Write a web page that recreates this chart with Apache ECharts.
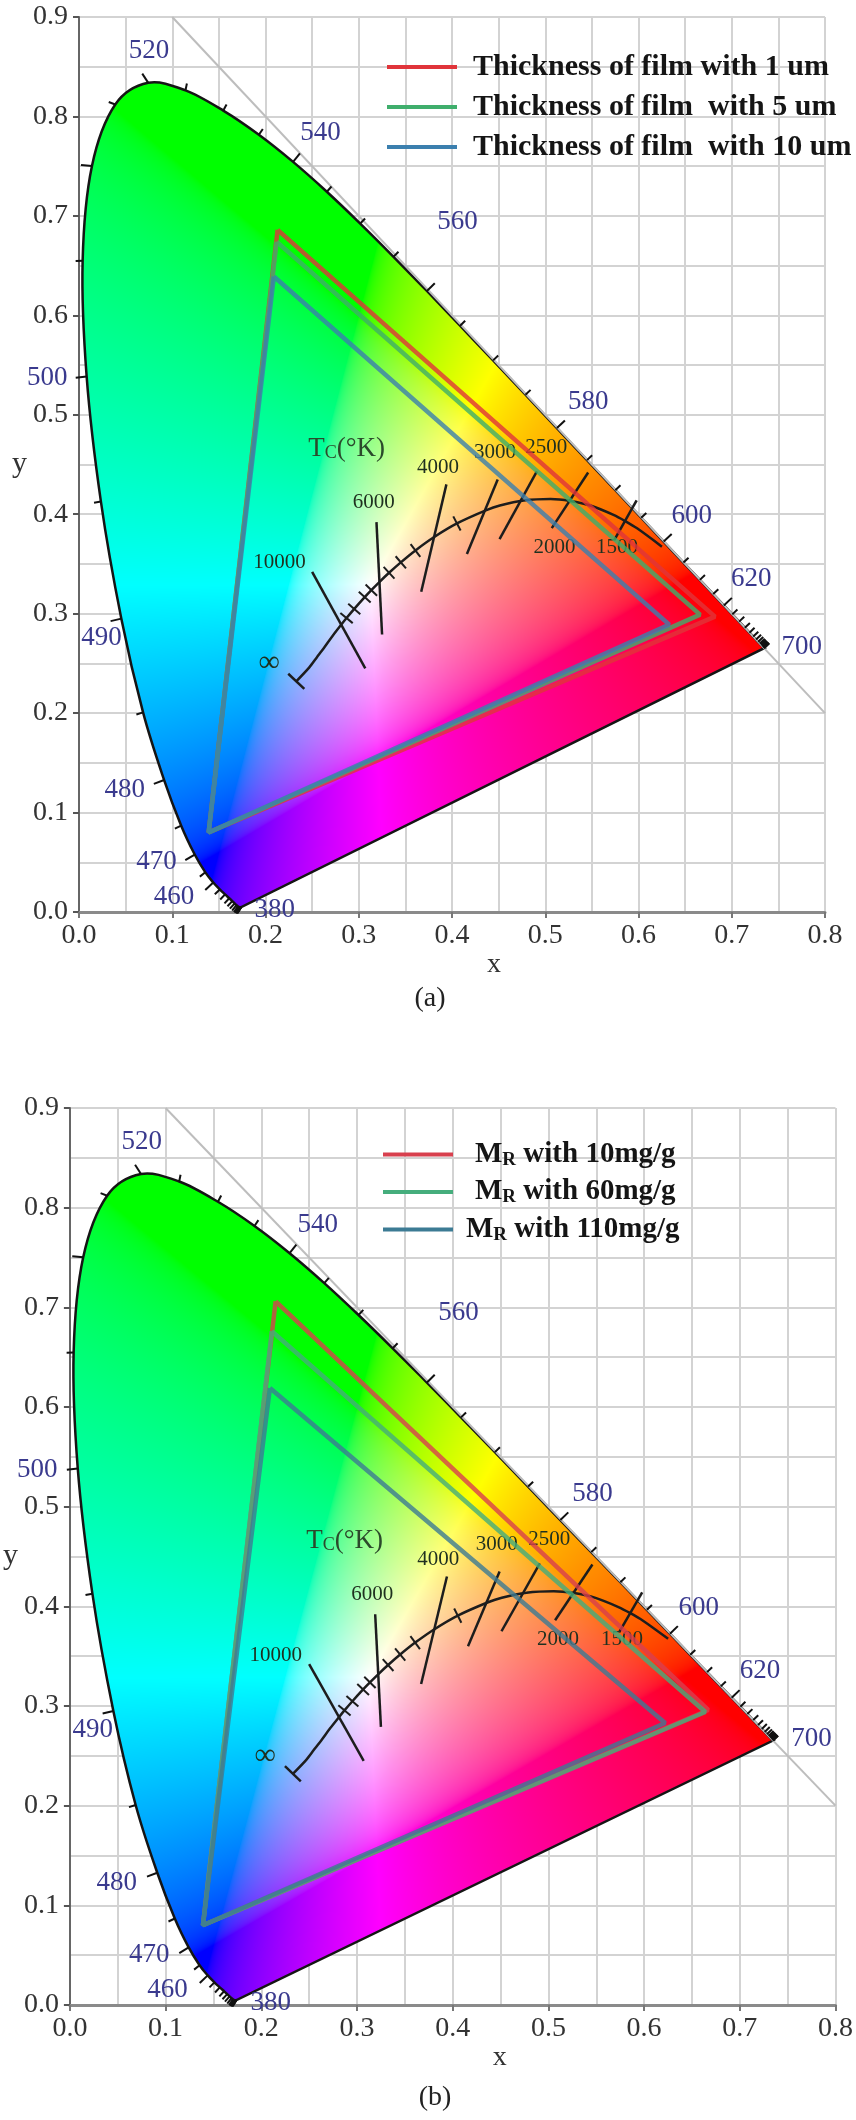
<!DOCTYPE html>
<html><head><meta charset="utf-8">
<script src="https://cdn.jsdelivr.net/npm/echarts@6/dist/echarts.min.js"></script>
<style>html,body{margin:0;padding:0;background:#fff}#c{width:856px;height:2120px}</style>
</head><body><div id="c"></div>
<script>
// ---------- DATA ----------
// CIE 1931 spectral locus (5 nm steps)
const wavelengths = [380,385,390,395,400,405,410,415,420,425,430,435,440,445,450,455,460,465,470,475,480,485,490,495,500,505,510,515,520,525,530,535,540,545,550,555,560,565,570,575,580,585,590,595,600,605,610,615,620,625,630,635,640,645,650,655,660,665,670,675,680,685,690,695,700];
const locusX = [0.1741,0.1740,0.1738,0.1736,0.1733,0.1730,0.1726,0.1721,0.1714,0.1703,0.1689,0.1669,0.1644,0.1611,0.1566,0.1510,0.1440,0.1355,0.1241,0.1096,0.0913,0.0687,0.0454,0.0235,0.0082,0.0039,0.0139,0.0389,0.0743,0.1142,0.1547,0.1929,0.2296,0.2658,0.3016,0.3373,0.3731,0.4087,0.4441,0.4788,0.5125,0.5448,0.5752,0.6029,0.6270,0.6482,0.6658,0.6801,0.6915,0.7006,0.7079,0.7140,0.7190,0.7230,0.7260,0.7283,0.7300,0.7311,0.7320,0.7327,0.7334,0.7340,0.7344,0.7346,0.7347];
const locusY = [0.0050,0.0050,0.0049,0.0049,0.0048,0.0048,0.0048,0.0048,0.0051,0.0058,0.0069,0.0086,0.0109,0.0138,0.0177,0.0227,0.0297,0.0399,0.0578,0.0868,0.1327,0.2007,0.2950,0.4127,0.5384,0.6548,0.7502,0.8120,0.8338,0.8262,0.8059,0.7816,0.7543,0.7243,0.6923,0.6589,0.6245,0.5896,0.5547,0.5202,0.4866,0.4544,0.4242,0.3965,0.3725,0.3514,0.3340,0.3197,0.3083,0.2993,0.2920,0.2859,0.2809,0.2770,0.2740,0.2717,0.2700,0.2689,0.2680,0.2673,0.2666,0.2660,0.2656,0.2654,0.2653];
// wavelength labels (text and anchor in x,y)
const wlLabelText = ['520','540','560','580','600','620','700','500','490','480','470','460','380'];
const wlLabelX = [0.075,0.259,0.406,0.546,0.657,0.721,0.775,-0.034,0.024,0.049,0.083,0.102,0.210];
const wlLabelY = [0.866,0.783,0.694,0.513,0.398,0.335,0.267,0.537,0.276,0.123,0.050,0.015,0.002];
const longTickWl = [460,470,480,490,500,510,520,540,560,580,600,620];
// Planckian locus
const planckT = [1200,1400,1500,1600,1800,2000,2200,2500,2800,3000,3500,4000,4500,5000,5500,6000,6500,7000,8000,9000,10000,12000,15000,20000,30000,Infinity];
const planckX = [0.6251,0.5985,0.5857,0.5732,0.5492,0.5267,0.5056,0.4770,0.4513,0.4369,0.4053,0.3805,0.3608,0.3451,0.3325,0.3221,0.3135,0.3064,0.2952,0.2869,0.2807,0.2719,0.2630,0.2550,0.2470,0.2330];
const planckY = [0.3674,0.3858,0.3931,0.3993,0.4085,0.4133,0.4152,0.4137,0.4087,0.4041,0.3907,0.3768,0.3636,0.3516,0.3411,0.3318,0.3237,0.3166,0.3048,0.2956,0.2883,0.2776,0.2660,0.2560,0.2460,0.2320];
const planckTickT = [9000,8000,7000,6500,5500,5000,4500,3500];
// isotherm segments
const isoT  = [10000,6000,4000,3000,2500,2000,1500];
const isoX1 = [0.250,0.319,0.394,0.449,0.491,0.546,0.598];
const isoY1 = [0.342,0.392,0.430,0.435,0.443,0.442,0.414];
const isoX2 = [0.307,0.325,0.367,0.416,0.451,0.507,0.574];
const isoY2 = [0.245,0.279,0.322,0.360,0.375,0.386,0.374];
// temperature labels
const tempLabelText = ['10000','6000','4000','3000','2500','2000','1500','\u221e'];
const tempLabelX = [0.215,0.316,0.385,0.446,0.501,0.510,0.577,0.204];
const tempLabelY = [0.351,0.412,0.447,0.462,0.467,0.367,0.367,0.250];
const tcLabelX = [0.287];
const tcLabelY = [0.467];
// white-light diagonal x + y = 1
const diagX = [0.1,0.8];
const diagY = [0.9,0.2];
// chart (a): film thickness triangles  [x, y] vertices
const filmNames = ['Thickness of film with 1 um','Thickness of film  with 5 um','Thickness of film  with 10 um'];
const film1um  = [[0.213,0.686],[0.682,0.297],[0.139,0.080]];
const film5um  = [[0.212,0.674],[0.666,0.299],[0.139,0.080]];
const film10um = [[0.209,0.639],[0.633,0.289],[0.139,0.080]];
// chart (b): M_R content triangles
const mrNames = ['MR with 10mg/g','MR with 60mg/g','MR with 110mg/g'];
const mr10  = [[0.215,0.706],[0.667,0.296],[0.139,0.080]];
const mr60  = [[0.211,0.676],[0.664,0.294],[0.139,0.080]];
const mr110 = [[0.209,0.619],[0.622,0.283],[0.139,0.080]];
const xTickLabels = ['0.0','0.1','0.2','0.3','0.4','0.5','0.6','0.7','0.8'];
const yTickLabels = ['0.0','0.1','0.2','0.3','0.4','0.5','0.6','0.7','0.8','0.9'];

// ---------- RENDER ----------
const FONT = 'Liberation Serif';
const chart = echarts.init(document.getElementById('c'), null, {renderer:'canvas'});

const GL = new Uint8ClampedArray(4097);
for (let i=0;i<=4096;i++){const c=i/4096;const v=c<=0.0031308?12.92*c:1.055*Math.pow(c,1/2.4)-0.055;GL[i]=Math.round(v*255);}
function xyColor(x,y,out){
  if (y<=0.0005){return false;}
  const X=x/y, Z=(1-x-y)/y;
  let r=3.2406*X-1.5372-0.4986*Z, g=-0.9689*X+1.8758+0.0415*Z, b=0.0557*X-0.2040+1.0570*Z;
  r=r<0?0:r; g=g<0?0:g; b=b<0?0:b;
  const m=Math.max(r,g,b)||1;
  out[0]=GL[Math.round(r/m*4096)];out[1]=GL[Math.round(g/m*4096)];out[2]=GL[Math.round(b/m*4096)];
  return true;
}
// smooth (Catmull-Rom) SVG path through the locus points in pixel space, closed by the purple line
function locusPath(api, dx, dy){
  const P = locusX.map((x,i)=>{const p=api.coord([x,locusY[i]]); return [p[0]-dx,p[1]-dy];});
  const n=P.length; let s='M'+P[0][0].toFixed(2)+' '+P[0][1].toFixed(2);
  for (let i=0;i<n-1;i++){
    const p0=P[Math.max(i-1,0)], p1=P[i], p2=P[i+1], p3=P[Math.min(i+2,n-1)];
    const c1=[p1[0]+(p2[0]-p0[0])/6, p1[1]+(p2[1]-p0[1])/6];
    const c2=[p2[0]-(p3[0]-p1[0])/6, p2[1]-(p3[1]-p1[1])/6];
    s+='C'+c1[0].toFixed(2)+' '+c1[1].toFixed(2)+' '+c2[0].toFixed(2)+' '+c2[1].toFixed(2)+' '+p2[0].toFixed(2)+' '+p2[1].toFixed(2);
  }
  return s+'Z';
}

function fillRender(params, api){
  const cs = params.coordSys;
  const w = Math.ceil(cs.width)+1, h = Math.ceil(cs.height)+1;
  const x0 = Math.floor(cs.x), y0 = Math.floor(cs.y);
  const p00 = api.coord([0,0]), p11 = api.coord([1,1]);
  const kx = 1/(p11[0]-p00[0]), ky = 1/(p11[1]-p00[1]);
  const cv = document.createElement('canvas'); cv.width=w; cv.height=h;
  const ctx = cv.getContext('2d');
  const img = ctx.createImageData(w,h); const d=img.data; const c=[0,0,0];
  for (let py=0;py<h;py++){
    const yy=(y0+py+0.5-p00[1])*ky;
    for (let px=0;px<w;px++){
      const xx=(x0+px+0.5-p00[0])*kx;
      const k=(py*w+px)*4;
      if (xyColor(xx,yy,c)){d[k]=c[0];d[k+1]=c[1];d[k+2]=c[2];d[k+3]=255;}
    }
  }
  ctx.putImageData(img,0,0);
  ctx.globalCompositeOperation='destination-in';
  ctx.fillStyle='#000'; ctx.fill(new Path2D(locusPath(api,x0,y0)));
  return {type:'group', children:[
    {type:'image', style:{image:cv, x:x0, y:y0, width:w, height:h}, silent:true},
    {type:'path', shape:{pathData:locusPath(api,0,0)}, style:{fill:null, stroke:'#151515', lineWidth:2.5}, silent:true}
  ]};
}

function locusTickRender(params, api){
  const i = params.dataIndex, n = locusX.length;
  const p = api.coord([locusX[i],locusY[i]]);
  let a=i, b=i, A=p, B=p;
  while (a>0 && Math.hypot(A[0]-B[0],A[1]-B[1])<4){a--; A=api.coord([locusX[a],locusY[a]]);}
  while (b<n-1 && Math.hypot(A[0]-B[0],A[1]-B[1])<8){b++; B=api.coord([locusX[b],locusY[b]]);}
  let tx=B[0]-A[0], ty=B[1]-A[1]; const L=Math.hypot(tx,ty)||1; tx/=L; ty/=L;
  let nx=ty, ny=-tx; const c=api.coord([0.33,0.33]);
  if ((p[0]-c[0])*nx+(p[1]-c[1])*ny<0){nx=-nx;ny=-ny;}
  const len = longTickWl.indexOf(wavelengths[i])>=0 ? 11 : 7;
  return {type:'line', shape:{x1:p[0],y1:p[1],x2:p[0]+nx*len,y2:p[1]+ny*len}, style:{stroke:'#111',lineWidth:2}};
}

function isoRender(params, api){
  const p1=api.coord([api.value(0),api.value(1)]), p2=api.coord([api.value(2),api.value(3)]);
  return {type:'line', shape:{x1:p1[0],y1:p1[1],x2:p2[0],y2:p2[1]}, style:{stroke:'#1d1d1d',lineWidth:2.5}};
}
function planckTickRender(params, api){
  const T = planckTickT[params.dataIndex];
  const i = planckT.indexOf(T);
  const p=api.coord([planckX[i],planckY[i]]);
  const A=api.coord([planckX[i-1],planckY[i-1]]), B=api.coord([planckX[i+1],planckY[i+1]]);
  let tx=B[0]-A[0], ty=B[1]-A[1]; const L=Math.hypot(tx,ty)||1; tx/=L; ty/=L;
  const h=8;
  return {type:'line', shape:{x1:p[0]+ty*h,y1:p[1]-tx*h,x2:p[0]-ty*h,y2:p[1]+tx*h}, style:{stroke:'#1d1d1d',lineWidth:2}};
}
function endBarRender(params, api){
  const n=planckX.length;
  const p=api.coord([planckX[n-1],planckY[n-1]]), A=api.coord([planckX[n-2],planckY[n-2]]);
  let tx=p[0]-A[0], ty=p[1]-A[1]; const L=Math.hypot(tx,ty)||1; tx/=L; ty/=L;
  const h=11;
  return {type:'line', shape:{x1:p[0]+ty*h,y1:p[1]-tx*h,x2:p[0]-ty*h,y2:p[1]+tx*h}, style:{stroke:'#1d1d1d',lineWidth:2.5}};
}
function textRender(arr, fontFn, color){
  return function(params, api){
    const p=api.coord([api.value(0),api.value(1)]);
    const t=arr[params.dataIndex];
    return {type:'text', x:p[0], y:p[1], style:{text:t, font:fontFn(t), fill:color, align:'center', verticalAlign:'middle'}};
  };
}
function tcRender(params, api){
  const p=api.coord([api.value(0),api.value(1)]);
  return {type:'text', x:p[0], y:p[1], style:{text:'{a|T}{s|C}{a|(\u00b0K)}', align:'center', verticalAlign:'middle',
    rich:{a:{fontFamily:FONT,fontSize:27,fill:'#2b4a2b',lineHeight:30,verticalAlign:'bottom'},
          s:{fontFamily:FONT,fontSize:18,fill:'#2b4a2b',lineHeight:14,verticalAlign:'bottom'}}}};
}

function buildGrid(gi, triNames, tris, triColors){
  const ax = {xAxisIndex:gi, yAxisIndex:gi};
  const s = [];
  s.push(Object.assign({type:'custom', name:'fill'+gi, data:[[0,0]], renderItem:fillRender, z:1, silent:true}, ax));
  s.push(Object.assign({type:'line', name:'diag'+gi, data:diagX.map((x,i)=>[x,diagY[i]]), symbol:'none', lineStyle:{color:'#bdbdbd',width:2}, z:2, silent:true}, ax));
  s.push(Object.assign({type:'custom', name:'lticks'+gi, data:wavelengths.map((w,i)=>[locusX[i],locusY[i],w]), renderItem:locusTickRender, z:3, silent:true}, ax));
  s.push(Object.assign({type:'line', name:'planck'+gi, data:planckX.map((x,i)=>[x,planckY[i]]), symbol:'none', smooth:0.3, lineStyle:{color:'#1d1d1d',width:2.5}, z:4, silent:true}, ax));
  s.push(Object.assign({type:'custom', name:'iso'+gi, data:isoT.map((t,i)=>[isoX1[i],isoY1[i],isoX2[i],isoY2[i]]), encode:{x:[0,2],y:[1,3]}, renderItem:isoRender, z:4, silent:true}, ax));
  s.push(Object.assign({type:'custom', name:'pticks'+gi, data:planckTickT.map(t=>[0.3,0.3]), renderItem:planckTickRender, z:4, silent:true}, ax));
  s.push(Object.assign({type:'custom', name:'pend'+gi, data:[[0.3,0.3]], renderItem:endBarRender, z:4, silent:true}, ax));
  s.push(Object.assign({type:'custom', name:'wl'+gi, data:wlLabelX.map((x,i)=>[x,wlLabelY[i]]), renderItem:textRender(wlLabelText,()=>'27px "Liberation Serif"','#3a3a8e'), z:5, silent:true}, ax));
  s.push(Object.assign({type:'custom', name:'tl'+gi, data:tempLabelX.map((x,i)=>[x,tempLabelY[i]]), renderItem:textRender(tempLabelText,(t)=>(t==='\u221e'?'30px':'21px')+' "Liberation Serif"','#1f301f'), z:5, silent:true}, ax));
  s.push(Object.assign({type:'custom', name:'tc'+gi, data:tcLabelX.map((x,i)=>[x,tcLabelY[i]]), renderItem:tcRender, z:5, silent:true}, ax));
  tris.forEach((t,k)=>{
    const pts = t.concat([t[0]]);
    s.push(Object.assign({type:'line', name:triNames[k], data:pts, symbol:'none', color:triColors[k],
      itemStyle:{color:triColors[k]}, lineStyle:{color:triColors[k],width:4.5,opacity:0.8}, z:6+k}, ax));
  });
  return s;
}

function xAxisCfg(gi,padLeft){
  return {gridIndex:gi, type:'value', min:0, max:0.8, interval:0.1,
    name:'x', nameLocation:'middle', nameGap:18, nameTextStyle:{fontFamily:FONT,fontSize:28,color:'#333',padding:[0,0,0,padLeft]},
    axisLine:{show:true,onZero:false,lineStyle:{color:'#8a8a8a',width:3}},
    axisTick:{show:true,length:6,lineStyle:{color:'#777',width:2}},
    axisLabel:{fontFamily:FONT,fontSize:28,color:'#333',margin:10,formatter:(v)=>xTickLabels[Math.round(v*10)]},
    splitLine:{show:true,lineStyle:{color:'#d3d3d3',width:2}},
    minorTick:{show:false,splitNumber:2},
    minorSplitLine:{show:true,lineStyle:{color:'#d3d3d3',width:2}}};
}
function yAxisCfg(gi){
  return {gridIndex:gi, type:'value', min:0, max:0.9, interval:0.1,
    name:'y', nameLocation:'middle', nameGap:46, nameRotate:0, nameTextStyle:{fontFamily:FONT,fontSize:30,color:'#333'},
    axisLine:{show:true,onZero:false,lineStyle:{color:'#666',width:2}},
    axisTick:{show:true,length:6,lineStyle:{color:'#555',width:2}},
    axisLabel:{fontFamily:FONT,fontSize:28,color:'#333',margin:11,formatter:(v)=>yTickLabels[Math.round(v*10)]},
    splitLine:{show:true,lineStyle:{color:'#d3d3d3',width:2}},
    minorTick:{show:false,splitNumber:2},
    minorSplitLine:{show:true,lineStyle:{color:'#d3d3d3',width:2}}};
}

const colorsA = ['#e0343a','#3fae6c','#3b7fae'];
const colorsB = ['#d8404e','#45ad7c','#3c7b94'];
const series = buildGrid(0, filmNames, [film1um,film5um,film10um], colorsA)
  .concat(buildGrid(1, mrNames, [mr10,mr60,mr110], colorsB));

const legTxt = {fontFamily:FONT,fontWeight:'bold',fontSize:29,color:'#151515',lineHeight:30};
chart.setOption({
  animation:false,
  backgroundColor:'#ffffff',
  grid:[{left:79, top:17, width:746, height:895},{left:66, top:1108, width:770, height:897}],
  xAxis:[xAxisCfg(0,84), xAxisCfg(1,94)],
  yAxis:[yAxisCfg(0), yAxisCfg(1)],
  legend:[
    {data:filmNames, orient:'vertical', left:387, top:52, padding:0, icon:'rect', itemWidth:70, itemHeight:4, itemGap:10,
     formatter:(n)=>'{t|'+n+'}', textStyle:{rich:{t:Object.assign({padding:[0,0,0,11]},legTxt,{fontSize:30})}}},
    {data:mrNames, orient:'vertical', left:383, top:1140, padding:0, icon:'rect', itemWidth:70, itemHeight:4, itemGap:8,
     formatter:(n)=>{const i=mrNames.indexOf(n); const tail=n.replace('MR',''); return '{'+(i===2?'q':'p')+'|M}{s|R}{m|'+tail+'}';},
     textStyle:{rich:{p:Object.assign({padding:[0,0,0,17]},legTxt), q:Object.assign({padding:[0,0,0,8]},legTxt), m:legTxt,
       s:{fontFamily:FONT,fontWeight:'bold',fontSize:19,color:'#151515',lineHeight:16,verticalAlign:'bottom'}}}}
  ],
  graphic:[
    {type:'text', x:430, y:999, style:{text:'(a)', font:'28px "Liberation Serif"', fill:'#222', align:'center', verticalAlign:'middle'}},
    {type:'text', x:435, y:2098, style:{text:'(b)', font:'28px "Liberation Serif"', fill:'#222', align:'center', verticalAlign:'middle'}}
  ],
  series:series
});
</script></body></html>
